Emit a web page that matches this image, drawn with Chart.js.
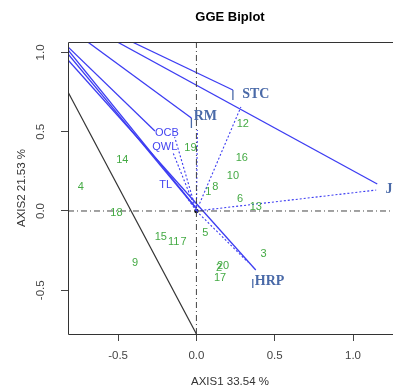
<!DOCTYPE html>
<html>
<head>
<meta charset="utf-8">
<script src="https://cdn.jsdelivr.net/npm/chart.js@4.4.1/dist/chart.umd.min.js"></script>
<style>
  html, body { margin: 0; padding: 0; background: #fff; overflow: hidden; }
</style>
</head>
<body>
<canvas id="biplot" width="396" height="389"></canvas>
<script>
// ==================== DATA ====================
// genotypes (green numbers)
const genotypes = ['1','2','3','4','5','6','7','8','9','10','11','12','13','14','15','16','17','18','19','20'];
const genoX = [0.076, 0.145, 0.429, -0.738, 0.057, 0.278, -0.082, 0.120, -0.391, 0.233, -0.145, 0.296, 0.379, -0.473, -0.227, 0.290, 0.151, -0.511, -0.038, 0.170];
const genoY = [0.120, -0.360, -0.271, 0.151, -0.139, 0.076, -0.196, 0.151, -0.328, 0.221, -0.196, 0.549, 0.025, 0.322, -0.164, 0.334, -0.423, -0.013, 0.397, -0.347];

// environments: vector ends (dotted from origin) and label positions
const envNames = ['STC', 'RM', 'J', 'HRP', 'OCB', 'QWL', 'TL'];
const envX = [0.284, 0.006, 1.148, 0.328, -0.139, -0.151, -0.095];
const envY = [0.656, 0.511, 0.132, -0.322, 0.467, 0.372, 0.132];
const envLabelX = [0.379, 0.057, 1.230, 0.467, -0.189, -0.202, -0.196];
const envLabelY = [0.738, 0.599, 0.139, -0.442, 0.492, 0.404, 0.164];

// solid blue lines (start / end)
const solidX0 = [-0.410, -0.505, -0.694, -0.820, -0.820, -0.820, -0.820];
const solidY0 = [1.066, 1.066, 1.066, 1.035, 1.016, 0.991, 0.953];
const solidX1 = [0.233, 1.155, -0.032, -0.265, -0.013, 0.000, 0.379];
const solidY1 = [0.763, 0.170, 0.587, 0.505, 0.032, 0.013, -0.372];

// short vertical marks next to STC, RM, HRP
const markX = [0.233, -0.032, 0.360];
const markY0 = [0.763, 0.587, -0.429];
const markY1 = [0.700, 0.524, -0.486];

// black line
const blackX = [-0.820, 0.000];
const blackY = [0.751, -0.776];

// axes
const xTicks = [-0.5, 0, 0.5, 1.0];
const yTicks = [-0.5, 0, 0.5, 1.0];
const xLimits = [-0.820, 1.249];
const yLimits = [-0.776, 1.066];

// ==================== DATASETS ====================
const BLUE = '#3d3df2';
const SANS = '"Liberation Sans", Arial, sans-serif';
const datasets = [];

// reference dot-dash lines through origin
datasets.push({ data: [{x: xLimits[0], y: 0}, {x: xLimits[1], y: 0}], borderColor: '#444', borderWidth: 1, borderDash: [6, 3, 1, 3] });
datasets.push({ data: [{x: 0, y: yLimits[0]}, {x: 0, y: yLimits[1]}], borderColor: '#444', borderWidth: 1, borderDash: [6, 3, 1, 3] });

datasets.push({ data: blackX.map((v, i) => ({x: v, y: blackY[i]})), borderColor: '#333', borderWidth: 1.2 });

solidX0.forEach((v, i) => {
  datasets.push({ data: [{x: v, y: solidY0[i]}, {x: solidX1[i], y: solidY1[i]}], borderColor: BLUE, borderWidth: 1.3 });
});
markX.forEach((v, i) => {
  datasets.push({ data: [{x: v, y: markY0[i]}, {x: v, y: markY1[i]}], borderColor: '#4a6aa8', borderWidth: 1.3 });
});
envX.forEach((v, i) => {
  datasets.push({ data: [{x: 0, y: 0}, {x: v, y: envY[i]}], borderColor: BLUE, borderWidth: 1.1, borderDash: [2, 2] });
});

// origin point
datasets.push({ data: [{x: 0, y: 0}], showLine: false, pointRadius: 2.2, pointBackgroundColor: '#000', pointBorderWidth: 0 });

// text datasets
datasets.push({ data: genoX.map((v, i) => ({x: v, y: genoY[i]})), showLine: false, pointRadius: 0,
  labels: genotypes, labelFont: '11px ' + SANS, labelColor: '#44aa44' });
datasets.push({ data: envLabelX.slice(0, 4).map((v, i) => ({x: v, y: envLabelY[i]})), showLine: false, pointRadius: 0,
  labels: envNames.slice(0, 4), labelFont: 'bold 14px "Liberation Serif", "Times New Roman", serif', labelColor: '#4a6aa8' });
datasets.push({ data: envLabelX.slice(4).map((v, i) => ({x: v, y: envLabelY[i + 4]})), showLine: false, pointRadius: 0,
  labels: envNames.slice(4), labelFont: '11px ' + SANS, labelColor: '#4343f0' });

datasets.forEach(d => {
  if (d.showLine === undefined) { d.showLine = true; d.pointRadius = 0; }
  d.clip = 0;
});

// ==================== PLUGIN ====================
const decor = {
  id: 'decor',
  afterDatasetsDraw(chart) {
    const ctx = chart.ctx;
    const area = chart.chartArea;
    chart.data.datasets.forEach((ds, i) => {
      if (!ds.labels) return;
      const meta = chart.getDatasetMeta(i);
      ctx.save();
      ctx.font = ds.labelFont;
      ctx.fillStyle = ds.labelColor;
      ctx.textAlign = 'center';
      ctx.textBaseline = 'middle';
      meta.data.forEach((pt, j) => ctx.fillText(ds.labels[j], pt.x, pt.y));
      ctx.restore();
    });

    // frame (left, top, bottom)
    ctx.save();
    ctx.strokeStyle = '#333';
    ctx.lineWidth = 1;
    ctx.beginPath();
    ctx.moveTo(area.right + 1, area.top + 0.5);
    ctx.lineTo(area.left + 0.5, area.top + 0.5);
    ctx.lineTo(area.left + 0.5, area.bottom + 0.5);
    ctx.lineTo(area.right + 1, area.bottom + 0.5);
    ctx.stroke();

    // title
    ctx.fillStyle = '#000';
    ctx.font = 'bold 13px ' + SANS;
    ctx.textAlign = 'center';
    ctx.textBaseline = 'middle';
    ctx.fillText('GGE Biplot', (area.left + area.right) / 2, 17);

    // y tick labels, rotated
    const ys = chart.scales.y;
    ctx.fillStyle = '#444';
    ctx.font = '11.5px ' + SANS;
    yTicks.forEach(v => {
      ctx.save();
      ctx.translate(41, ys.getPixelForValue(v));
      ctx.rotate(-Math.PI / 2);
      ctx.fillText(v.toFixed(1), 0, 0);
      ctx.restore();
    });
    ctx.restore();
  }
};

// ==================== CHART ====================
new Chart(document.getElementById('biplot').getContext('2d'), {
  type: 'scatter',
  data: { datasets },
  options: {
    responsive: false,
    animation: false,
    devicePixelRatio: 1,
    layout: { padding: { top: 42, right: 0, left: 0, bottom: 0 } },
    plugins: { legend: { display: false }, tooltip: { enabled: false }, title: { display: false } },
    scales: {
      x: {
        type: 'linear', min: xLimits[0], max: xLimits[1],
        afterBuildTicks: s => { s.ticks = xTicks.map(v => ({ value: v })); },
        afterFit: s => { s.height = 55; },
        grid: { drawOnChartArea: false, drawTicks: true, tickLength: 7, color: '#444' },
        border: { display: false },
        ticks: { padding: 8, color: '#444', font: { family: SANS, size: 11.5 }, callback: v => v.toFixed(1), maxRotation: 0 },
        title: { display: true, text: 'AXIS1 33.54 %', color: '#333', padding: { top: 0, bottom: 0 }, font: { family: SANS, size: 11.5 } }
      },
      y: {
        type: 'linear', min: yLimits[0], max: yLimits[1],
        afterBuildTicks: s => { s.ticks = yTicks.map(v => ({ value: v })); },
        afterFit: s => { s.width = 68; },
        grid: { drawOnChartArea: false, drawTicks: true, tickLength: 7, color: '#444' },
        border: { display: false },
        ticks: { color: 'rgba(0,0,0,0)', font: { size: 10 } },
        title: { display: true, text: 'AXIS2 21.53 %', color: '#333', padding: { top: 15, bottom: 0 }, font: { family: SANS, size: 11.5 } }
      }
    }
  },
  plugins: [decor]
});
</script>
</body>
</html>
